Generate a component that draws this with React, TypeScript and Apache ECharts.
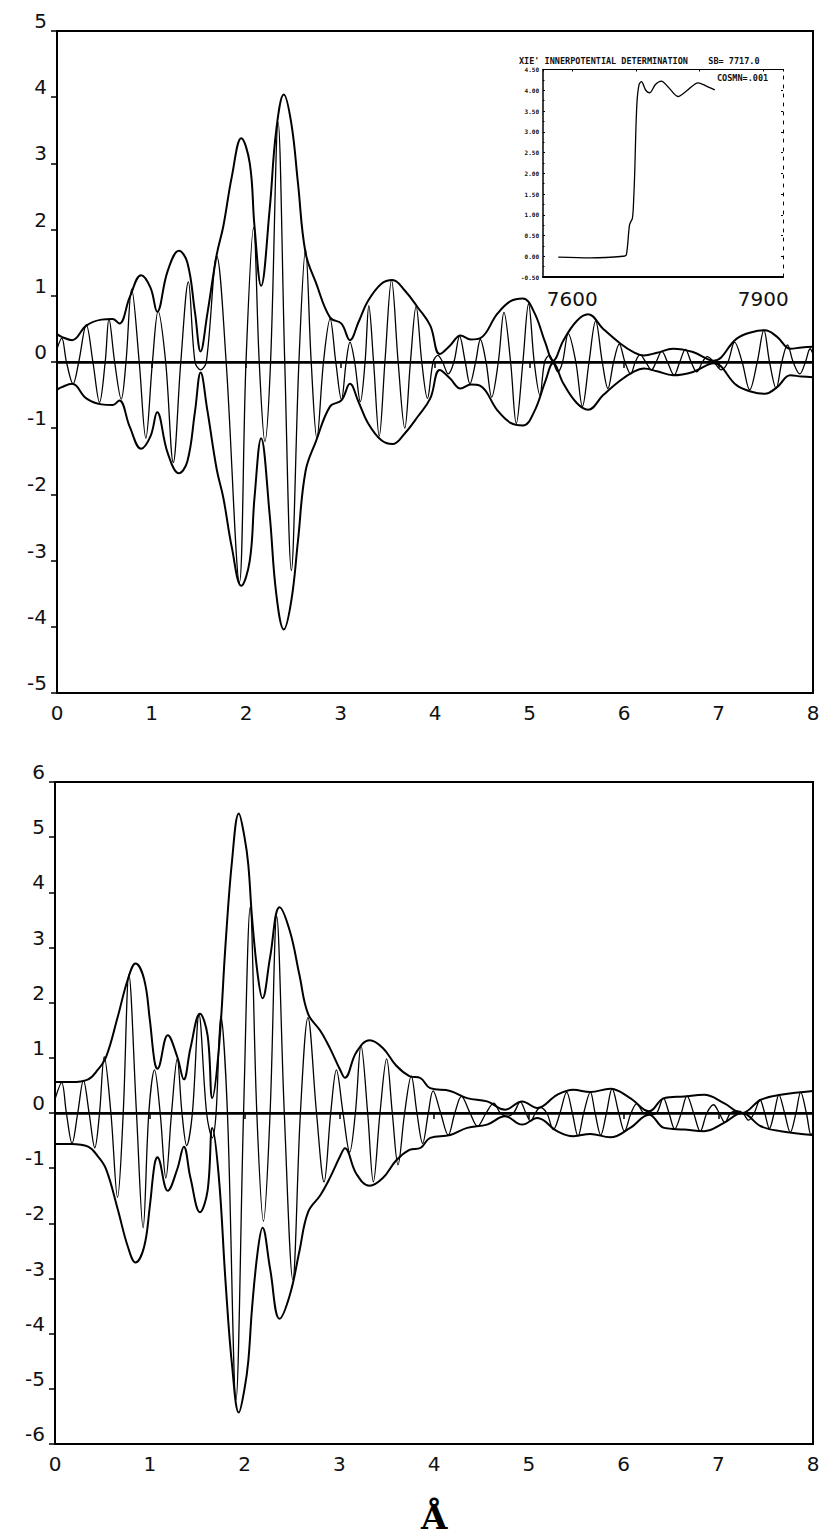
import React, { useEffect, useRef } from "react";
import * as echarts from "echarts";

// ---------- data ----------
// Upper panel: magnitude envelope |F(R)| (drawn as +/-) and oscillating part
const topMagnitude: [number, number][] = [
  [0, 0.42], [0.05, 0.38], [0.16, 0.33], [0.31, 0.55], [0.47, 0.64], [0.59, 0.65], [0.66, 0.58],
  [0.77, 0.98], [0.89, 1.31], [0.99, 1.12], [1.06, 0.76], [1.17, 1.37], [1.29, 1.68], [1.38, 1.5],
  [1.46, 0.75], [1.52, 0.16], [1.59, 0.72], [1.69, 1.62], [1.76, 2.05], [1.85, 2.8], [1.95, 3.38],
  [2.04, 3.0], [2.09, 2.05], [2.16, 1.15], [2.25, 2.3], [2.32, 3.5], [2.4, 4.04], [2.48, 3.6],
  [2.55, 2.7], [2.63, 1.65], [2.74, 1.2], [2.89, 0.67], [3.01, 0.58], [3.1, 0.33], [3.19, 0.6],
  [3.29, 0.92], [3.43, 1.18], [3.55, 1.24], [3.68, 1.08], [3.82, 0.82], [3.95, 0.55], [4.05, 0.12],
  [4.16, 0.25], [4.27, 0.4], [4.38, 0.34], [4.48, 0.36], [4.66, 0.73], [4.8, 0.92], [4.93, 0.96],
  [5.05, 0.75], [5.17, 0.28], [5.25, 0.02], [5.36, 0.33], [5.5, 0.62], [5.62, 0.72], [5.78, 0.5],
  [5.96, 0.28], [6.1, 0.15], [6.21, 0.1], [6.35, 0.14], [6.52, 0.2], [6.73, 0.15], [6.95, 0.02],
  [7.19, 0.35], [7.35, 0.45], [7.49, 0.48], [7.62, 0.38], [7.76, 0.2], [7.88, 0.22], [8.0, 0.23],
];

const topOscillation: [number, number][] = [
  [0, 0.2], [0.05, 0.36], [0.1, 0], [0.17, -0.33], [0.23, 0], [0.31, 0.56], [0.38, 0], [0.45, -0.61],
  [0.51, 0], [0.55, 0.65], [0.61, 0], [0.68, -0.56], [0.73, 0], [0.79, 1.1], [0.87, 0], [0.94, -1.15],
  [1.01, 0], [1.07, 0.77], [1.15, 0], [1.23, -1.52], [1.31, 0], [1.39, 1.21], [1.46, 0], [1.52, -0.12],
  [1.58, 0], [1.69, 1.6], [1.79, 0], [1.93, -3.33], [2.0, 0], [2.08, 2.03], [2.14, 0], [2.2, -1.2],
  [2.26, 0], [2.34, 3.62], [2.41, 0], [2.48, -3.15], [2.56, 0], [2.63, 1.7], [2.69, 0], [2.75, -1.15],
  [2.82, 0], [2.89, 0.65], [2.95, 0], [3.01, -0.57], [3.06, 0], [3.1, 0.3], [3.15, 0], [3.21, -0.6],
  [3.26, 0], [3.3, 0.85], [3.35, 0], [3.41, -1.12], [3.47, 0], [3.54, 1.24], [3.61, 0], [3.68, -1.0],
  [3.74, 0], [3.8, 0.84], [3.86, 0], [3.92, -0.55], [3.98, 0], [4.03, 0.1], [4.08, 0], [4.14, -0.18],
  [4.2, 0], [4.26, 0.39], [4.32, 0], [4.37, -0.33], [4.43, 0], [4.48, 0.34], [4.54, 0], [4.6, -0.53],
  [4.67, 0], [4.73, 0.75], [4.8, 0], [4.86, -0.93], [4.93, 0], [4.99, 0.88], [5.05, 0], [5.11, -0.5],
  [5.16, 0], [5.21, 0.1], [5.25, 0], [5.3, -0.15], [5.35, 0], [5.41, 0.43], [5.49, 0], [5.56, -0.67],
  [5.63, 0], [5.7, 0.62], [5.77, 0], [5.83, -0.4], [5.89, 0], [5.95, 0.27], [6.01, 0], [6.07, -0.18],
  [6.12, 0], [6.17, 0.11], [6.23, 0], [6.29, -0.12], [6.34, 0], [6.4, 0.16], [6.46, 0], [6.53, -0.2],
  [6.59, 0], [6.65, 0.19], [6.71, 0], [6.77, -0.15], [6.83, 0], [6.88, 0.08], [6.95, 0], [7.03, -0.12],
  [7.1, 0], [7.17, 0.3], [7.25, 0], [7.33, -0.42], [7.41, 0], [7.48, 0.48], [7.54, 0], [7.61, -0.4],
  [7.67, 0], [7.73, 0.26], [7.79, 0], [7.86, -0.18], [7.92, 0], [7.97, 0.2], [8.0, 0.12],
];

// Lower panel
const bottomMagnitude: [number, number][] = [
  [0, 0.56], [0.17, 0.56], [0.35, 0.61], [0.45, 0.78], [0.54, 1.02], [0.66, 1.73], [0.77, 2.43],
  [0.85, 2.71], [0.94, 2.43], [1.0, 1.7], [1.05, 0.94], [1.08, 0.8], [1.19, 1.41], [1.29, 1.02],
  [1.36, 0.61], [1.43, 1.18], [1.53, 1.8], [1.61, 1.41], [1.66, 0.27], [1.73, 1.18], [1.8, 3.06],
  [1.87, 4.6], [1.94, 5.43], [2.0, 5.0], [2.04, 4.5], [2.08, 3.53], [2.14, 2.5], [2.19, 2.08],
  [2.27, 2.82], [2.37, 3.73], [2.48, 3.29], [2.58, 2.5], [2.67, 1.8], [2.8, 1.49], [2.9, 1.18],
  [3.01, 0.78], [3.06, 0.64], [3.18, 1.1], [3.32, 1.32], [3.46, 1.18], [3.6, 0.86], [3.74, 0.67],
  [3.86, 0.63], [3.96, 0.45], [4.17, 0.4], [4.35, 0.27], [4.56, 0.21], [4.75, 0.06], [4.93, 0.21],
  [5.09, 0.09], [5.3, 0.33], [5.47, 0.42], [5.65, 0.38], [5.86, 0.44], [6.07, 0.27], [6.27, 0.03],
  [6.43, 0.27], [6.64, 0.3], [6.85, 0.33], [7.06, 0.18], [7.25, 0.0], [7.45, 0.24], [7.66, 0.33],
  [8.0, 0.4],
];

const bottomOscillation: [number, number][] = [
  [0, 0.25], [0.07, 0.55], [0.12, 0], [0.18, -0.55], [0.24, 0], [0.3, 0.59], [0.36, 0], [0.42, -0.63],
  [0.47, 0], [0.52, 1.02], [0.59, 0], [0.66, -1.53], [0.72, 0], [0.78, 2.51], [0.86, 0], [0.93, -2.08],
  [0.99, 0], [1.05, 0.78], [1.11, 0], [1.17, -1.18], [1.23, 0], [1.29, 0.98], [1.34, 0], [1.39, -0.59],
  [1.45, 0], [1.52, 1.78], [1.6, 0], [1.66, -0.45], [1.7, 0], [1.75, 1.76], [1.82, 0], [1.91, -5.2],
  [1.99, 0], [2.06, 3.73], [2.13, 0], [2.2, -1.96], [2.27, 0], [2.34, 3.57], [2.42, 0], [2.51, -3.02],
  [2.59, 0], [2.67, 1.73], [2.76, 0], [2.84, -1.25], [2.91, 0], [2.97, 0.78], [3.04, 0], [3.11, -0.71],
  [3.17, 0], [3.23, 1.22], [3.3, 0], [3.36, -1.25], [3.43, 0], [3.5, 0.98], [3.56, 0], [3.62, -0.94],
  [3.69, 0], [3.76, 0.67], [3.82, 0], [3.88, -0.55], [3.94, 0], [3.99, 0.4], [4.07, 0], [4.15, -0.4],
  [4.22, 0], [4.29, 0.3], [4.38, 0], [4.46, -0.24], [4.55, 0], [4.63, 0.18], [4.7, 0], [4.77, -0.06],
  [4.84, 0], [4.91, 0.2], [4.97, 0], [5.02, -0.15], [5.07, 0], [5.12, 0.1], [5.19, 0], [5.26, -0.3],
  [5.33, 0], [5.4, 0.38], [5.46, 0], [5.52, -0.42], [5.58, 0], [5.65, 0.38], [5.7, 0], [5.76, -0.4],
  [5.82, 0], [5.88, 0.44], [5.95, 0], [6.01, -0.33], [6.08, 0], [6.14, 0.17], [6.21, 0], [6.28, -0.03],
  [6.35, 0], [6.42, 0.27], [6.48, 0], [6.54, -0.29], [6.61, 0], [6.67, 0.31], [6.74, 0], [6.81, -0.33],
  [6.88, 0], [6.95, 0.15], [7.01, 0], [7.07, -0.17], [7.13, 0], [7.2, 0.04], [7.26, 0], [7.32, -0.13],
  [7.38, 0], [7.44, 0.24], [7.49, 0], [7.54, -0.28], [7.59, 0], [7.64, 0.33], [7.7, 0], [7.76, -0.35],
  [7.82, 0], [7.87, 0.38], [7.93, 0], [7.98, -0.4], [8.0, -0.35],
];

// Inset: absorption edge (energy in eV vs normalised absorption)
const insetEnergy = [
  7578, 7628, 7680, 7685, 7690, 7694.5, 7696.6, 7698.2, 7699.7, 7701.8, 7705, 7708.7, 7715.4,
  7721.7, 7730.6, 7740, 7750.5, 7766.2, 7779.3, 7797.6, 7810.7, 7823.8,
];
const insetAbsorption = [
  -0.02, -0.04, 0.0, 0.04, 0.76, 0.92, 1.43, 2.07, 2.95, 3.75, 4.14, 4.21, 4.0, 3.94, 4.14, 4.22,
  4.08, 3.85, 3.98, 4.18, 4.1, 4.01,
];
const insetEnergyLabels = [7600, 7900];
const insetTitle = "XIE' INNERPOTENTIAL DETERMINATION    SB= 7717.0";
const insetNote = "COSMN=.001";
const distanceUnit = "Å";

// ---------- chart ----------
const FONT = "DejaVu Sans";

function mainAxes(grid: number, yMin: number, yMax: number) {
  const x = {
    type: "value",
    gridIndex: grid,
    min: 0,
    max: 8,
    interval: 1,
    axisLine: { show: true, lineStyle: { color: "#000", width: 2 } },
    axisTick: { show: true, inside: false, length: 6, lineStyle: { color: "#000", width: 1.5 } },
    axisLabel: {
      show: true,
      margin: 10,
      fontSize: 20,
      fontFamily: FONT,
      color: "#111",
      showMinLabel: true,
      showMaxLabel: true,
    },
    splitLine: { show: false },
  };
  const y = {
    type: "value",
    gridIndex: grid,
    min: yMin,
    max: yMax,
    interval: 1,
    axisLine: { show: true, onZero: false, lineStyle: { color: "#000", width: 2 } },
    axisTick: { show: true, inside: false, length: 6, lineStyle: { color: "#000", width: 1.5 } },
    axisLabel: {
      show: true,
      margin: 10,
      fontSize: 20,
      fontFamily: FONT,
      color: "#111",
      verticalAlign: "bottom",
      showMinLabel: true,
      showMaxLabel: true,
    },
    splitLine: { show: false },
  };
  return { x, y };
}

function panelSeries(idx: number, magnitude: [number, number][], osc: [number, number][]) {
  const upper = magnitude.map((p) => [p[0], p[1]]);
  const lower = magnitude.map((p) => [p[0], -p[1]]);
  return [
    {
      type: "line",
      xAxisIndex: idx,
      yAxisIndex: idx,
      data: upper,
      smooth: 0.4,
      showSymbol: false,
      lineStyle: { color: "#000", width: 2 },
      silent: true,
      markLine: {
        silent: true,
        symbol: "none",
        label: { show: false },
        lineStyle: { color: "#000", width: 2.5, type: "solid" },
        data: [{ yAxis: 0 }],
      },
    },
    {
      type: "line",
      xAxisIndex: idx,
      yAxisIndex: idx,
      data: lower,
      smooth: 0.4,
      showSymbol: false,
      lineStyle: { color: "#000", width: 2 },
      silent: true,
    },
    {
      type: "line",
      xAxisIndex: idx,
      yAxisIndex: idx,
      data: osc,
      smooth: 0.35,
      showSymbol: false,
      lineStyle: { color: "#000", width: 1.3 },
      silent: true,
    },
  ];
}

export default function App() {
  const ref = useRef<HTMLDivElement>(null);

  useEffect(() => {
    if (!ref.current) return;
    const chart = echarts.init(ref.current, null, { renderer: "svg" });

    const top = mainAxes(0, -5, 5);
    const bottom = mainAxes(1, -6, 6);

    const option: any = {
      animation: false,
      backgroundColor: "#fff",
      grid: [
        { left: 57, top: 31, width: 756, height: 662, show: true, borderColor: "#000", borderWidth: 2, outerBoundsMode: "none" },
        { left: 55, top: 782, width: 758, height: 662, show: true, borderColor: "#000", borderWidth: 2, outerBoundsMode: "none" },
        { left: 543, top: 69.5, width: 240, height: 207.5, show: true, backgroundColor: "#fff", borderWidth: 0, outerBoundsMode: "none" },
      ],
      xAxis: [
        top.x,
        bottom.x,
        {
          type: "value",
          gridIndex: 2,
          min: 7554,
          max: 7931,
          axisLine: { show: true, onZero: false, lineStyle: { color: "#000", width: 2 } },
          axisTick: { show: false },
          axisLabel: {
            show: true,
            customValues: insetEnergyLabels,
            formatter: (v: number) => String(v),
            margin: 12,
            fontSize: 20,
            fontFamily: FONT,
            color: "#111",
          },
          splitLine: { show: false },
        },
        {
          type: "value",
          gridIndex: 2,
          position: "top",
          min: 7554,
          max: 7931,
          axisLine: { show: true, onZero: false, lineStyle: { color: "#000", width: 1.2 } },
          axisTick: { show: true, inside: true, length: 2, lineStyle: { color: "#000", width: 1 } },
          axisLabel: { show: false },
          splitLine: { show: false },
        },
      ],
      yAxis: [
        top.y,
        bottom.y,
        {
          type: "value",
          gridIndex: 2,
          min: -0.5,
          max: 4.5,
          interval: 0.5,
          axisLine: { show: true, onZero: false, lineStyle: { color: "#000", width: 1.5 } },
          axisTick: { show: true, inside: true, length: 2, lineStyle: { color: "#000", width: 1 } },
          minorTick: { show: true, splitNumber: 2, length: 1.5, lineStyle: { color: "#000" } },
          axisLabel: {
            show: true,
            margin: 4,
            fontSize: 6,
            fontWeight: "bold",
            fontFamily: "DejaVu Sans Mono",
            color: "#111",
            formatter: (v: number) => v.toFixed(2),
          },
          splitLine: { show: false },
        },
        {
          type: "value",
          gridIndex: 2,
          position: "right",
          min: -0.5,
          max: 4.5,
          interval: 0.5,
          axisLine: { show: true, onZero: false, lineStyle: { color: "#000", width: 1, type: [3, 6] } },
          axisTick: { show: true, inside: true, length: 2, lineStyle: { color: "#000", width: 1 } },
          axisLabel: { show: false },
          splitLine: { show: false },
        },
      ],
      series: [
        ...panelSeries(0, topMagnitude, topOscillation),
        ...panelSeries(1, bottomMagnitude, bottomOscillation),
        {
          type: "line",
          xAxisIndex: 2,
          yAxisIndex: 2,
          data: insetEnergy.map((e, i) => [e, insetAbsorption[i]]),
          smooth: 0.3,
          showSymbol: false,
          lineStyle: { color: "#000", width: 1.3 },
          silent: true,
        },
      ],
      graphic: [
        {
          type: "text",
          left: 519,
          top: 56,
          silent: true,
          style: {
            text: insetTitle,
            font: "bold 8.5px 'DejaVu Sans Mono'",
            fill: "#111",
          },
        },
        {
          type: "text",
          left: 717,
          top: 73,
          silent: true,
          style: {
            text: insetNote,
            font: "bold 8.5px 'DejaVu Sans Mono'",
            fill: "#111",
          },
        },
        {
          type: "text",
          left: 421,
          top: 1500,
          silent: true,
          style: {
            text: distanceUnit,
            font: "bold 34px 'DejaVu Serif'",
            fill: "#000",
          },
        },
      ],
    };

    chart.setOption(option);
    return () => chart.dispose();
  }, []);

  return (
    <div
      ref={ref}
      style={{ position: "absolute", left: 0, top: 0, width: 820, height: 1540, background: "#fff" }}
    />
  );
}
